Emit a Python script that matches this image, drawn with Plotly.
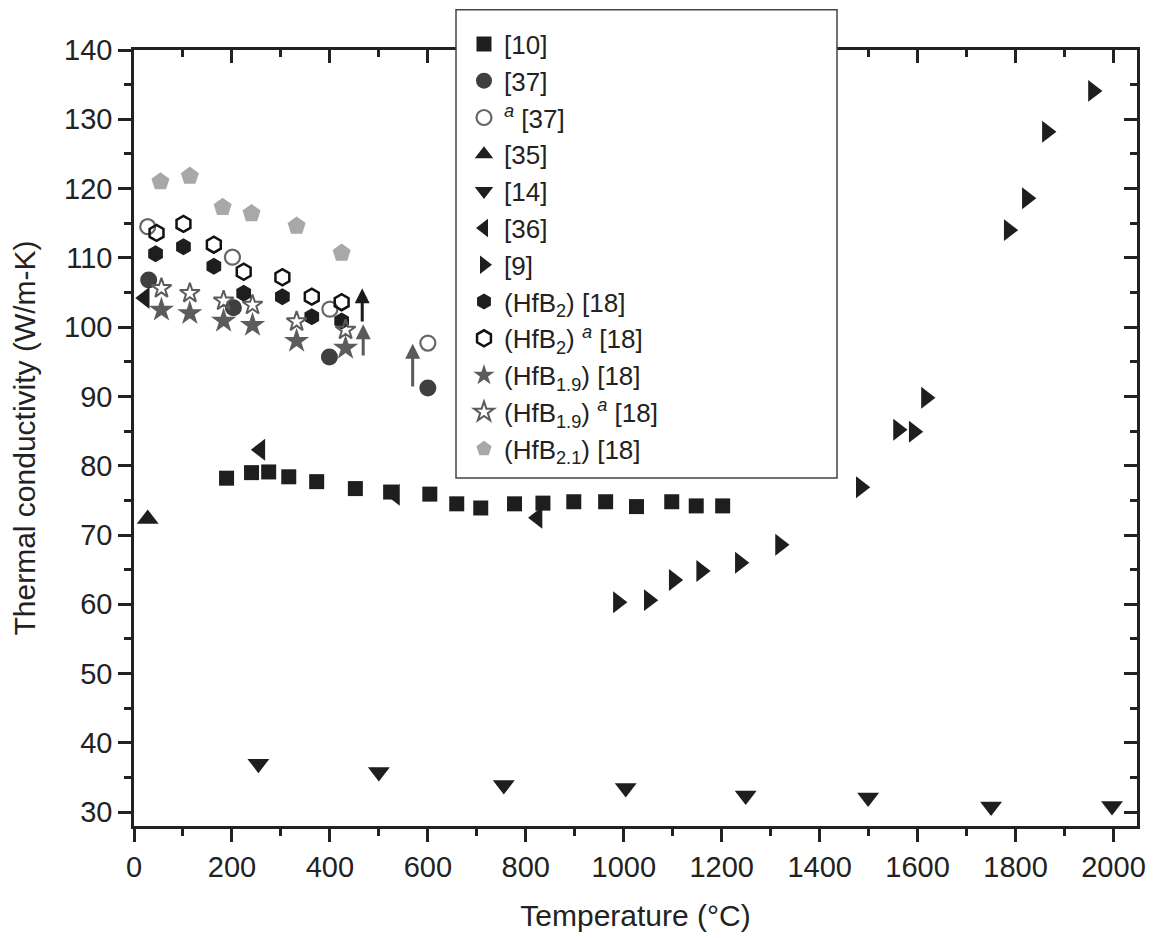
import plotly.graph_objects as go

# ---------------- data ----------------
ref10_x = [189, 240, 275, 316, 373, 452, 524, 604, 659, 708, 777, 835, 898, 963, 1026, 1098, 1148, 1202]
ref10_y = [78.2, 79.0, 79.1, 78.4, 77.7, 76.7, 76.2, 75.9, 74.5, 73.9, 74.5, 74.6, 74.8, 74.8, 74.1, 74.8, 74.2, 74.2]

ref37_x = [30, 203, 399, 600]
ref37_y = [106.8, 102.8, 95.7, 91.2]

ref37a_x = [28, 201, 400, 600]
ref37a_y = [114.5, 110.1, 102.6, 97.7]

ref35_x = [28]
ref35_y = [72.3]

ref14_x = [254, 500, 755, 1004, 1249, 1499, 1750, 1997]
ref14_y = [37.0, 35.8, 33.9, 33.5, 32.4, 32.1, 30.8, 30.9]

ref36_x = [22, 258, 533, 824]
ref36_y = [104.2, 82.3, 75.8, 72.5]

ref9_x = [988, 1051, 1102, 1158, 1237, 1319, 1484, 1560, 1592, 1617, 1786, 1823, 1864, 1958]
ref9_y = [60.3, 60.6, 63.5, 64.8, 66.0, 68.6, 76.9, 85.2, 84.9, 89.8, 114.0, 118.6, 128.2, 134.1]

hfb2_x = [44, 101, 163, 224, 303, 363, 424]
hfb2_y = [110.6, 111.6, 108.8, 104.9, 104.4, 101.5, 100.9]

hfb2a_x = [46, 101, 163, 224, 303, 363, 424]
hfb2a_y = [113.6, 114.9, 111.9, 108.0, 107.2, 104.4, 103.6]

hfb19_x = [56, 114, 183, 242, 332, 432]
hfb19_y = [102.5, 102.0, 100.9, 100.3, 98.0, 97.0]

hfb19a_x = [56, 114, 183, 242, 332, 432]
hfb19a_y = [105.6, 104.9, 103.8, 103.2, 100.8, 99.6]

hfb21_x = [54, 114, 181, 240, 332, 424]
hfb21_y = [121.0, 121.8, 117.3, 116.4, 114.6, 110.7]

# arrows (x, y start, y end)
arrow_x = [466, 468, 569]
arrow_y0 = [100.6, 95.7, 91.2]
arrow_y1 = [105.6, 100.4, 97.6]
arrow_colors = ["#1a1a1a", "#5a5a5a", "#5a5a5a"]

x_range = [0, 2048]
y_range = [28, 140]

# ---------------- figure ----------------
DARK = "#1e1e1e"
GRAY = "#5c5c5c"
LIGHT = "#a8a8a8"

series = [
    ("[10]", ref10_x, ref10_y, dict(symbol="square", size=15, color=DARK)),
    ("[37]", ref37_x, ref37_y, dict(symbol="circle", size=17, color="#3f3f3f")),
    ("<sup><i>a</i></sup> [37]", ref37a_x, ref37a_y,
     dict(symbol="circle-open", size=15, color="#666666", line=dict(width=2.2, color="#666666"))),
    ("[35]", ref35_x, ref35_y, dict(symbol="triangle-up", size=19, color=DARK)),
    ("[14]", ref14_x, ref14_y, dict(symbol="triangle-down", size=19, color=DARK)),
    ("[36]", ref36_x, ref36_y, dict(symbol="triangle-left", size=19, color=DARK)),
    ("[9]", ref9_x, ref9_y, dict(symbol="triangle-right", size=19, color=DARK)),
    ("(HfB<sub>2</sub>) [18]", hfb2_x, hfb2_y, dict(symbol="hexagon", size=17, color=DARK)),
    ("(HfB<sub>2</sub>) <sup><i>a</i></sup> [18]", hfb2a_x, hfb2a_y,
     dict(symbol="hexagon-open", size=16, color="#111111", line=dict(width=2.5, color="#111111"))),
    ("(HfB<sub>1.9</sub>) [18]", hfb19_x, hfb19_y, dict(symbol="star", size=19, color=GRAY)),
    ("(HfB<sub>1.9</sub>) <sup><i>a</i></sup> [18]", hfb19a_x, hfb19a_y,
     dict(symbol="star-open", size=15, color=GRAY, line=dict(width=2, color=GRAY))),
    ("(HfB<sub>2.1</sub>) [18]", hfb21_x, hfb21_y, dict(symbol="pentagon", size=19, color=LIGHT)),
]

fig = go.Figure()
for name, xs, ys, mk in series:
    if "line" not in mk:
        mk["line"] = dict(width=0)
    fig.add_trace(go.Scatter(x=xs, y=ys, mode="markers", name=name, marker=mk))

# invisible trace on mirror axes so they get drawn
fig.add_trace(go.Scatter(x=[None], y=[None], xaxis="x2", yaxis="y2",
                         showlegend=False, hoverinfo="skip"))

for ax, y0, y1, col in zip(arrow_x, arrow_y0, arrow_y1, arrow_colors):
    fig.add_annotation(x=ax, y=y1, ax=ax, ay=y0, xref="x", yref="y",
                       axref="x", ayref="y", showarrow=True, text="",
                       arrowhead=2, arrowsize=1.0, arrowwidth=3, arrowcolor=col)

FONT = "Liberation Sans, Arial, sans-serif"
axis_common = dict(showline=True, linecolor="#222", linewidth=2.5, showgrid=False,
                   zeroline=False, tickcolor="#222", tickwidth=2.5, automargin=False)

# page body has an 8px margin, so the figure is 8px smaller on each side
fig.update_layout(
    width=1146, height=930,
    margin=dict(l=126, r=17, t=42, b=112, autoexpand=False),
    paper_bgcolor="white", plot_bgcolor="white",
    font=dict(family=FONT, size=29, color="#222"),
    showlegend=True,
    legend=dict(x=0.329, y=1.038, xanchor="left", yanchor="top",
                bgcolor="rgba(0,0,0,0)", borderwidth=0,
                font=dict(family=FONT, size=26, color="#222"),
                tracegroupgap=0, itemsizing="trace"),
    xaxis=dict(range=x_range, dtick=200, tick0=0, ticks="outside", ticklen=13,
               minor=dict(dtick=100, ticks="outside", ticklen=7, tickwidth=2.5, tickcolor="#222"),
               title=dict(text="Temperature (°C)", standoff=24, font=dict(size=30)),
               tickfont=dict(size=29), **axis_common),
    yaxis=dict(range=y_range, dtick=10, tick0=0, ticks="outside", ticklen=13,
               minor=dict(dtick=5, ticks="outside", ticklen=7, tickwidth=2.5, tickcolor="#222"),
               title=dict(text="Thermal conductivity (W/m-K)", standoff=27, font=dict(size=30)),
               tickfont=dict(size=29), **axis_common),
    xaxis2=dict(range=x_range, overlaying="x", side="top", matches="x", dtick=200, tick0=0,
                ticks="inside", ticklen=13, showticklabels=False,
                minor=dict(dtick=100, ticks="inside", ticklen=7, tickwidth=2.5, tickcolor="#222"),
                **axis_common),
    yaxis2=dict(range=y_range, overlaying="y", side="right", matches="y", dtick=10, tick0=0,
                ticks="inside", ticklen=13, showticklabels=False,
                minor=dict(dtick=5, ticks="inside", ticklen=7, tickwidth=2.5, tickcolor="#222"),
                **axis_common),
)

# legend frame (white box over the plot top, kept inside the figure)
fig.add_shape(type="rect", xref="paper", yref="paper",
              x0=(456 - 134) / 1003, x1=(837 - 134) / 1003,
              y0=(826 - 478) / 776, y1=1.052,
              fillcolor="white", line=dict(color="#444", width=1.5), layer="above")

fig.write_html("out.html")
